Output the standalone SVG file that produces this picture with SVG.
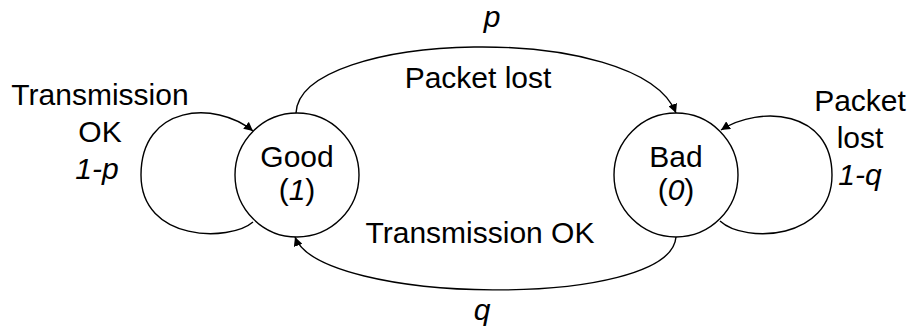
<svg xmlns="http://www.w3.org/2000/svg" width="908" height="332" viewBox="0 0 908 332">
<style>
text{font-family:"Liberation Sans",Arial,sans-serif;font-size:30px;fill:#000;text-anchor:middle}
.i{font-style:italic}
.n{fill:#fff;stroke:#000;stroke-width:1.4}
.e{fill:none;stroke:#000;stroke-width:1.4;marker-end:url(#ah)}
</style>
<defs>
<marker id="ah" viewBox="0 0 10 10" refX="10" refY="5" markerWidth="9" markerHeight="9" markerUnits="userSpaceOnUse" orient="auto">
<path d="M0,0 L10,5 L0,10 z" fill="#000"/>
</marker>
</defs>
<rect width="908" height="332" fill="#fff"/>
<g id="connectors">
<path class="e" d="M296,113 C300,30 640,20 676,113"/>
<path class="e" d="M676,237 C670,310 320,305 295,237"/>
<path class="e" d="M253,222 C230,242 141,242 141,175 C141,105 215,100 253,131"/>
<path class="e" d="M720,221 C745,244 832,240 832,175 C832,110 760,105 721,130"/>
<text x="492" y="27" class="i">p</text>
<text x="478" y="88">Packet lost</text>
<text x="480" y="243">Transmission OK</text>
<text x="482" y="320" class="i">q</text>
<text x="100" y="105">Transmission</text>
<text x="100" y="142">OK</text>
<text x="97" y="179" class="i">1-p</text>
<text x="860" y="111">Packet</text>
<text x="860" y="148">lost</text>
<text x="860" y="185" class="i">1-q</text>
</g>
<g id="good">
<circle class="n" cx="297" cy="175" r="62"/>
<text x="297" y="167">Good</text>
<text x="297" y="200">(<tspan class="i">1</tspan>)</text>
</g>
<g id="bad">
<circle class="n" cx="676" cy="175" r="62"/>
<text x="676" y="167">Bad</text>
<text x="676" y="200">(<tspan class="i">0</tspan>)</text>
</g>
</svg>
